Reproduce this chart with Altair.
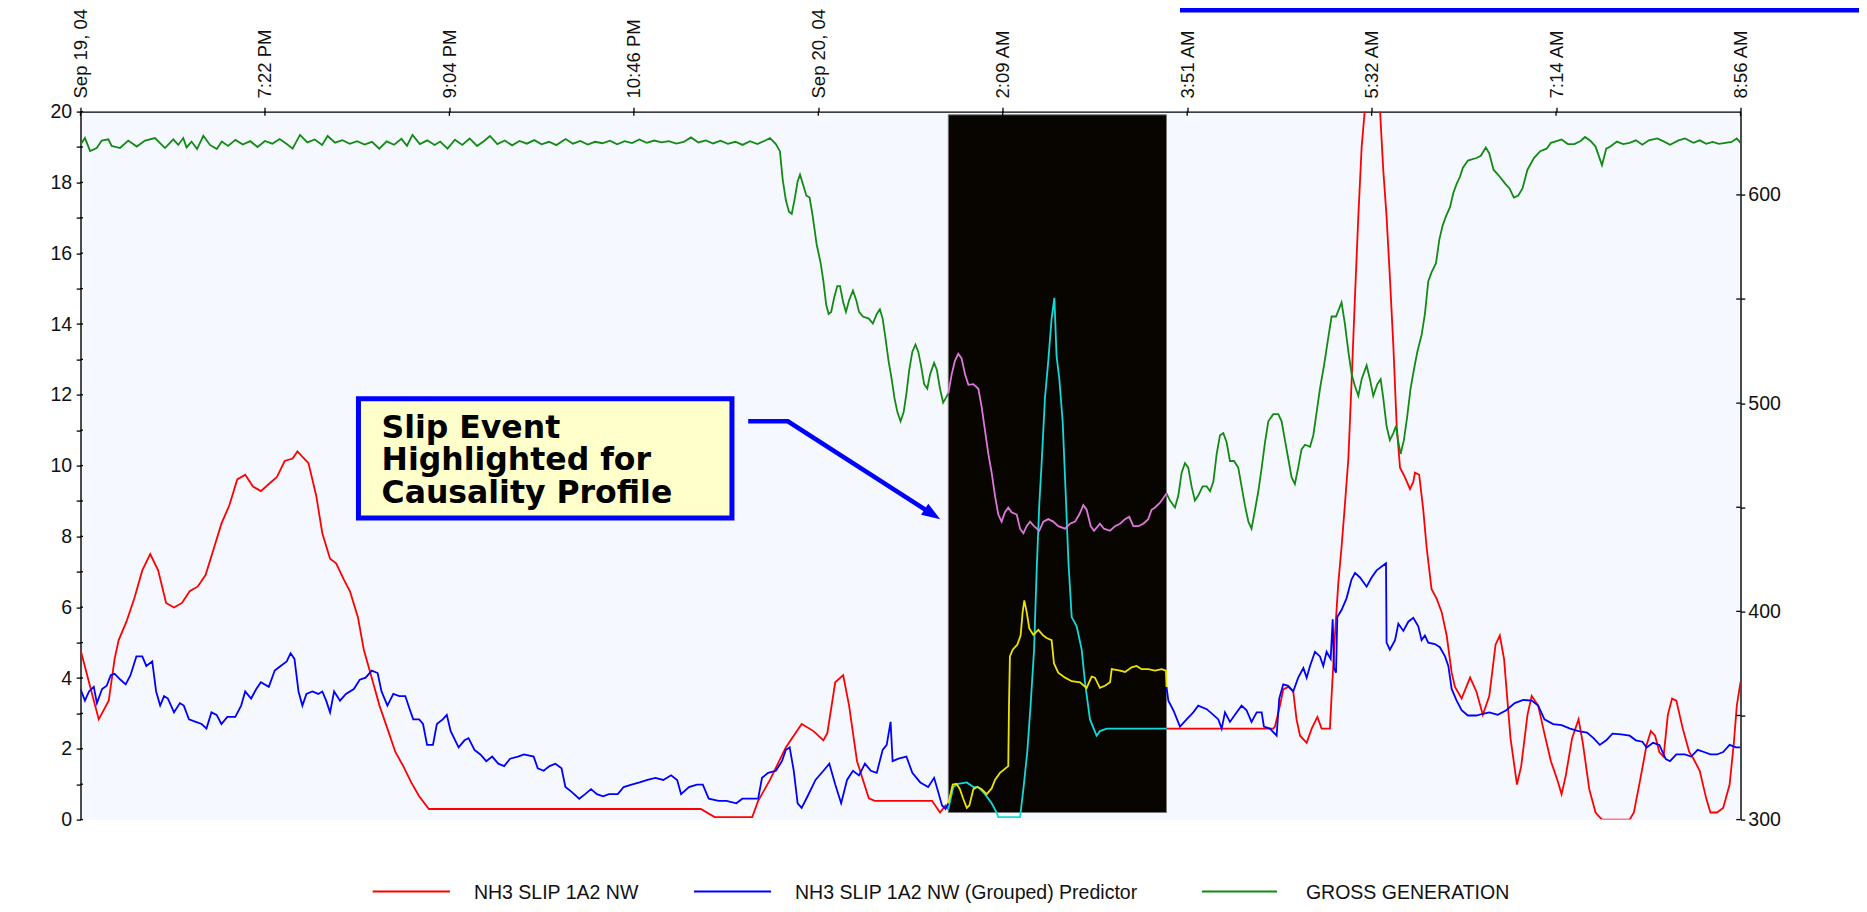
import altair as alt
import pandas as pd

# ---------------- data ----------------
# time axis is expressed in tick steps (0 = Sep 19 '04 5:40 PM, 9 = Sep 20 '04 8:56 AM)
X_LABELS = ['Sep 19, 04', '7:22 PM', '9:04 PM', '10:46 PM', 'Sep 20, 04',
            '2:09 AM', '3:51 AM', '5:32 AM', '7:14 AM', '8:56 AM']
X_TICKS = list(range(10))
LEFT_TICKS = list(range(0, 21))
RIGHT_TICKS = [300, 350, 400, 450, 500, 550, 600]
HIGHLIGHT_START = 4.705
HIGHLIGHT_END = 5.888
SERIES_NAMES = ['NH3 SLIP 1A2 NW', 'NH3 SLIP 1A2 NW (Grouped) Predictor', 'GROSS GENERATION']

NH3_SLIP = [
    (0.000, 4.80), (0.050, 3.80), (0.099, 2.83), (0.153, 3.36), (0.185, 4.54), (0.207, 5.07),
    (0.249, 5.59), (0.292, 6.25), (0.335, 7.04), (0.378, 7.50), (0.421, 7.04), (0.464, 6.12),
    (0.507, 5.99), (0.550, 6.12), (0.592, 6.45), (0.635, 6.58), (0.678, 6.91), (0.721, 7.63),
    (0.764, 8.36), (0.807, 8.88), (0.850, 9.61), (0.893, 9.74), (0.935, 9.41), (0.978, 9.28),
    (1.021, 9.48), (1.064, 9.67), (1.107, 10.13), (1.150, 10.20), (1.176, 10.40), (1.236, 10.07),
    (1.278, 9.15), (1.311, 8.09), (1.353, 7.37), (1.386, 7.24), (1.428, 6.78), (1.461, 6.45),
    (1.504, 5.72), (1.536, 4.80), (1.579, 4.01), (1.621, 3.22), (1.664, 2.57), (1.707, 1.91),
    (1.750, 1.51), (1.793, 1.05), (1.836, 0.66), (1.889, 0.30), (3.363, 0.30), (3.438, 0.07),
    (3.642, 0.07), (3.674, 0.53), (3.738, 1.12), (3.824, 2.04), (3.910, 2.70), (3.974, 2.50),
    (4.028, 2.24), (4.049, 2.44), (4.092, 3.88), (4.135, 4.08), (4.167, 3.22), (4.210, 1.65),
    (4.274, 0.60), (4.306, 0.53), (4.617, 0.53), (4.660, 0.20), (4.690, 0.40),
    (4.705, 0.30), (4.732, 0.92), (4.759, 1.01), (4.805, 1.05), (4.841, 0.92), (4.868, 0.92),
    (4.904, 0.72), (4.940, 0.46), (4.967, 0.20), (4.976, 0.07), (5.094, 0.07), (5.112, 0.86),
    (5.133, 1.91), (5.151, 3.22), (5.170, 4.80), (5.184, 7.04), (5.198, 8.88), (5.211, 10.07),
    (5.229, 11.91), (5.247, 12.96), (5.265, 14.15), (5.280, 14.74), (5.292, 13.09), (5.307, 12.44),
    (5.325, 11.25), (5.343, 9.01), (5.356, 7.30), (5.374, 5.72), (5.401, 5.46), (5.428, 4.80),
    (5.446, 3.88), (5.473, 2.83), (5.509, 2.37), (5.527, 2.50), (5.564, 2.57), (5.888, 2.57),
    (6.467, 2.57), (6.476, 2.63), (6.503, 3.22), (6.521, 3.68), (6.548, 3.75), (6.575, 3.62),
    (6.593, 2.83), (6.612, 2.37), (6.648, 2.17), (6.675, 2.57), (6.706, 2.90), (6.729, 2.57),
    (6.774, 2.57), (6.783, 3.49), (6.801, 5.20), (6.819, 6.65), (6.837, 7.70), (6.855, 8.88),
    (6.874, 10.20), (6.892, 12.44), (6.910, 14.80), (6.928, 17.04), (6.946, 19.00), (6.964, 20.10),
    (7.004, 23.00), (7.045, 20.10), (7.063, 18.36), (7.081, 17.04), (7.099, 15.33), (7.118, 13.36),
    (7.136, 11.12), (7.154, 9.94), (7.181, 9.67), (7.208, 9.34), (7.226, 9.54), (7.235, 9.80),
    (7.258, 9.74), (7.280, 8.75), (7.298, 7.70), (7.325, 6.51), (7.352, 6.25), (7.380, 5.86),
    (7.407, 5.20), (7.434, 4.15), (7.452, 3.75), (7.488, 3.42), (7.534, 4.01), (7.568, 3.62),
    (7.603, 2.96), (7.638, 3.49), (7.672, 4.94), (7.695, 5.20), (7.718, 4.54), (7.753, 2.30),
    (7.788, 0.99), (7.811, 1.51), (7.845, 2.96), (7.868, 3.49), (7.903, 3.22), (7.937, 2.43),
    (7.972, 1.65), (8.007, 1.12), (8.030, 0.72), (8.053, 1.25), (8.087, 2.30), (8.122, 2.83),
    (8.145, 2.17), (8.180, 0.86), (8.214, 0.20), (8.249, 0.00), (8.399, 0.00), (8.422, 0.20),
    (8.456, 1.12), (8.491, 2.11), (8.514, 2.50), (8.537, 2.37), (8.560, 1.91), (8.583, 1.78),
    (8.606, 2.96), (8.629, 3.42), (8.652, 3.36), (8.687, 2.57), (8.722, 1.91), (8.745, 1.72),
    (8.779, 1.38), (8.814, 0.60), (8.837, 0.20), (8.872, 0.20), (8.906, 0.33), (8.941, 0.99),
    (8.964, 2.17), (8.980, 3.22), (9.000, 3.88),
]

PREDICTOR = [
    (0.000, 3.69), (0.024, 3.36), (0.046, 3.62), (0.072, 3.75), (0.089, 3.29), (0.117, 3.69),
    (0.142, 3.78), (0.164, 4.08), (0.185, 4.12), (0.217, 3.95), (0.245, 3.82), (0.271, 4.08),
    (0.303, 4.61), (0.335, 4.61), (0.357, 4.34), (0.389, 4.47), (0.410, 3.62), (0.432, 3.22),
    (0.453, 3.49), (0.474, 3.42), (0.507, 3.03), (0.539, 3.29), (0.560, 3.22), (0.588, 2.83),
    (0.625, 2.76), (0.657, 2.70), (0.683, 2.57), (0.710, 3.03), (0.738, 2.96), (0.764, 2.70),
    (0.796, 2.90), (0.839, 2.90), (0.871, 3.22), (0.893, 3.62), (0.925, 3.42), (0.953, 3.69),
    (0.978, 3.88), (1.021, 3.75), (1.053, 4.21), (1.085, 4.34), (1.118, 4.47), (1.139, 4.70),
    (1.160, 4.54), (1.182, 3.62), (1.203, 3.22), (1.225, 3.55), (1.257, 3.62), (1.289, 3.55),
    (1.311, 3.62), (1.332, 3.36), (1.353, 3.03), (1.375, 3.62), (1.407, 3.36), (1.439, 3.55),
    (1.482, 3.69), (1.514, 3.95), (1.546, 4.01), (1.579, 4.21), (1.611, 4.14), (1.632, 3.62),
    (1.664, 3.22), (1.696, 3.55), (1.729, 3.49), (1.761, 3.49), (1.782, 3.16), (1.804, 2.83),
    (1.836, 2.83), (1.857, 2.70), (1.879, 2.11), (1.911, 2.11), (1.932, 2.70), (1.964, 2.83),
    (1.986, 2.96), (2.007, 2.50), (2.050, 2.04), (2.082, 2.24), (2.104, 2.30), (2.136, 1.97),
    (2.168, 1.84), (2.200, 1.65), (2.232, 1.78), (2.265, 1.58), (2.297, 1.51), (2.329, 1.72),
    (2.372, 1.78), (2.404, 1.84), (2.457, 1.78), (2.479, 1.45), (2.511, 1.38), (2.543, 1.51),
    (2.575, 1.58), (2.608, 1.45), (2.629, 0.92), (2.661, 0.79), (2.704, 0.59), (2.736, 0.72),
    (2.768, 0.86), (2.800, 0.72), (2.833, 0.66), (2.865, 0.72), (2.913, 0.72), (2.945, 0.92),
    (2.988, 0.99), (3.031, 1.05), (3.074, 1.12), (3.117, 1.18), (3.160, 1.12), (3.202, 1.25),
    (3.235, 1.12), (3.256, 0.72), (3.299, 0.92), (3.342, 0.99), (3.374, 0.99), (3.406, 0.59),
    (3.460, 0.53), (3.502, 0.53), (3.556, 0.46), (3.588, 0.59), (3.674, 0.59), (3.695, 1.18),
    (3.728, 1.32), (3.770, 1.38), (3.803, 1.65), (3.824, 1.97), (3.845, 2.04), (3.867, 1.38),
    (3.888, 0.46), (3.910, 0.33), (3.942, 0.66), (3.985, 1.12), (4.028, 1.38), (4.060, 1.58),
    (4.092, 0.99), (4.124, 0.46), (4.156, 1.12), (4.188, 1.38), (4.221, 1.25), (4.253, 1.58),
    (4.285, 1.38), (4.317, 1.32), (4.349, 1.97), (4.371, 2.11), (4.392, 2.76), (4.403, 1.65),
    (4.435, 1.72), (4.478, 1.78), (4.510, 1.32), (4.553, 1.05), (4.596, 0.92), (4.628, 1.18),
    (4.649, 0.80), (4.671, 0.40), (4.690, 0.30),
    (4.705, 0.46), (4.729, 0.99), (4.750, 1.01), (4.768, 0.86), (4.786, 0.59), (4.805, 0.33),
    (4.819, 0.40), (4.841, 0.86), (4.862, 0.92), (4.886, 0.86), (4.913, 0.72), (4.940, 0.88),
    (4.958, 1.12), (4.985, 1.32), (5.030, 1.51), (5.034, 3.22), (5.039, 4.61), (5.054, 4.80),
    (5.079, 4.94), (5.097, 5.20), (5.108, 5.86), (5.117, 6.19), (5.130, 5.86), (5.144, 5.40),
    (5.166, 5.22), (5.193, 5.36), (5.220, 5.20), (5.238, 5.13), (5.265, 5.07), (5.278, 4.41),
    (5.301, 4.15), (5.338, 4.01), (5.374, 3.91), (5.419, 3.88), (5.455, 3.72), (5.482, 4.04),
    (5.500, 4.01), (5.527, 3.72), (5.554, 3.78), (5.582, 3.88), (5.591, 4.25), (5.636, 4.21),
    (5.663, 4.17), (5.699, 4.30), (5.726, 4.34), (5.753, 4.25), (5.789, 4.25), (5.826, 4.21),
    (5.862, 4.25), (5.885, 4.21), (5.888, 3.75),
    (5.898, 3.36), (5.925, 3.09), (5.961, 2.63), (5.997, 2.83), (6.033, 3.03), (6.060, 3.22),
    (6.106, 3.12), (6.142, 2.96), (6.169, 2.83), (6.187, 2.57), (6.205, 3.03), (6.232, 2.76),
    (6.259, 2.96), (6.295, 3.22), (6.322, 3.09), (6.349, 2.76), (6.377, 3.03), (6.404, 3.03),
    (6.416, 2.63), (6.449, 2.57), (6.485, 2.37), (6.499, 3.42), (6.521, 3.82), (6.548, 3.78),
    (6.575, 3.62), (6.602, 4.01), (6.630, 4.28), (6.648, 4.01), (6.666, 4.34), (6.693, 4.74),
    (6.720, 4.61), (6.738, 4.34), (6.756, 4.74), (6.778, 4.54), (6.789, 5.66), (6.796, 4.28),
    (6.807, 4.15), (6.814, 5.72), (6.837, 5.92), (6.864, 6.25), (6.891, 6.78), (6.910, 6.97),
    (6.937, 6.84), (6.973, 6.58), (7.000, 6.84), (7.027, 7.04), (7.060, 7.17), (7.078, 7.24),
    (7.081, 5.00), (7.099, 4.80), (7.127, 5.07), (7.145, 5.53), (7.172, 5.33), (7.199, 5.59),
    (7.226, 5.70), (7.253, 5.46), (7.271, 5.07), (7.289, 5.20), (7.307, 5.00), (7.343, 4.96),
    (7.370, 4.87), (7.398, 4.61), (7.416, 4.34), (7.434, 3.69), (7.461, 3.36), (7.488, 3.09),
    (7.522, 2.94), (7.568, 2.94), (7.603, 2.99), (7.638, 3.03), (7.684, 2.96), (7.730, 3.09),
    (7.776, 3.29), (7.822, 3.38), (7.868, 3.36), (7.903, 3.22), (7.937, 2.83), (7.984, 2.70),
    (8.030, 2.67), (8.076, 2.57), (8.122, 2.50), (8.168, 2.46), (8.203, 2.30), (8.237, 2.11),
    (8.272, 2.24), (8.306, 2.43), (8.353, 2.41), (8.399, 2.37), (8.433, 2.24), (8.468, 2.20),
    (8.491, 2.04), (8.526, 2.17), (8.560, 2.11), (8.595, 1.71), (8.618, 1.65), (8.652, 1.84),
    (8.698, 1.84), (8.733, 1.78), (8.768, 1.97), (8.802, 1.91), (8.837, 1.84), (8.872, 1.84),
    (8.906, 1.91), (8.941, 2.11), (8.975, 2.04), (9.000, 2.04),
]

GROSS_GEN = [
    (0.000, 624.0), (0.006, 624.9), (0.024, 627.3), (0.052, 621.1), (0.088, 622.5), (0.115, 626.1),
    (0.151, 626.7), (0.169, 623.5), (0.214, 622.5), (0.259, 626.1), (0.305, 623.2), (0.350, 626.1),
    (0.404, 627.3), (0.458, 622.5), (0.503, 626.7), (0.530, 624.0), (0.557, 627.3), (0.575, 622.8),
    (0.602, 625.6), (0.632, 622.0), (0.666, 628.4), (0.702, 624.0), (0.739, 622.0), (0.766, 625.6),
    (0.80, 623.5), (0.84, 626.4), (0.88, 624.2), (0.92, 625.8), (0.96, 623.0), (1.00, 625.9),
    (1.04, 624.6), (1.08, 626.8), (1.12, 624.3), (1.15, 622.2), (1.19, 628.8), (1.23, 625.2),
    (1.27, 626.6), (1.31, 624.0), (1.34, 628.3), (1.38, 625.1), (1.42, 626.3), (1.46, 624.5),
    (1.50, 625.8), (1.54, 624.2), (1.58, 625.5), (1.62, 622.2), (1.66, 625.7), (1.70, 624.1),
    (1.74, 626.9), (1.77, 623.6), (1.80, 628.8), (1.84, 624.4), (1.88, 626.2), (1.92, 624.0),
    (1.95, 625.6), (1.99, 622.2), (2.03, 626.5), (2.07, 624.0), (2.11, 627.1), (2.15, 623.5),
    (2.19, 626.0), (2.22, 628.3), (2.26, 624.4), (2.30, 626.1), (2.34, 623.8), (2.38, 625.9),
    (2.42, 624.6), (2.46, 626.3), (2.50, 624.3), (2.54, 625.5), (2.58, 623.9), (2.63, 626.8),
    (2.67, 624.6), (2.71, 625.9), (2.75, 624.2), (2.79, 625.5), (2.83, 624.8), (2.87, 626.0),
    (2.91, 624.3), (2.95, 625.8), (2.99, 624.9), (3.03, 626.6), (3.07, 625.0), (3.11, 626.1),
    (3.15, 625.2), (3.19, 625.8), (3.23, 624.6), (3.27, 625.4), (3.31, 627.6), (3.35, 625.2),
    (3.39, 626.2), (3.43, 624.7), (3.47, 626.0), (3.51, 624.5), (3.55, 625.5), (3.59, 624.0),
    (3.63, 625.8), (3.67, 624.4), (3.71, 626.0), (3.738, 627.3), (3.770, 624.4), (3.792, 621.0),
    (3.807, 607.5), (3.824, 597.5), (3.841, 591.9), (3.856, 590.9), (3.871, 597.5), (3.888, 606.5),
    (3.901, 609.7), (3.920, 604.3), (3.935, 599.7), (3.953, 598.7), (3.970, 589.7), (3.991, 576.3),
    (4.013, 567.2), (4.028, 558.4), (4.043, 547.2), (4.056, 542.8), (4.070, 543.8), (4.086, 550.6),
    (4.103, 556.2), (4.118, 556.2), (4.135, 548.4), (4.150, 543.8), (4.167, 549.4), (4.188, 554.0),
    (4.206, 549.4), (4.221, 543.8), (4.242, 541.6), (4.274, 540.6), (4.296, 538.2), (4.317, 542.8),
    (4.334, 545.0), (4.349, 540.6), (4.364, 531.5), (4.381, 520.3), (4.398, 511.5), (4.413, 502.5),
    (4.429, 495.7), (4.446, 491.3), (4.463, 495.7), (4.478, 504.7), (4.493, 515.9), (4.510, 524.7),
    (4.527, 528.1), (4.542, 524.7), (4.557, 518.1), (4.574, 509.1), (4.591, 506.9), (4.606, 513.7),
    (4.628, 519.3), (4.643, 515.9), (4.660, 506.9), (4.677, 500.3), (4.692, 502.5),
    (4.705, 504.7), (4.723, 513.7), (4.741, 520.3), (4.759, 523.7), (4.777, 521.5), (4.796, 513.7),
    (4.814, 508.8), (4.841, 509.1), (4.868, 506.9), (4.886, 498.1), (4.904, 486.8), (4.922, 475.6),
    (4.940, 466.6), (4.958, 455.6), (4.976, 446.5), (4.994, 443.1), (5.012, 447.6), (5.030, 449.9),
    (5.048, 447.6), (5.076, 446.5), (5.094, 439.7), (5.112, 437.5), (5.130, 440.9), (5.148, 443.1),
    (5.170, 440.9), (5.198, 438.7), (5.220, 443.1), (5.247, 444.3), (5.274, 443.1), (5.301, 440.9),
    (5.338, 439.7), (5.365, 442.1), (5.392, 443.1), (5.415, 446.5), (5.437, 451.0), (5.455, 448.8),
    (5.477, 440.9), (5.495, 438.7), (5.527, 442.1), (5.549, 439.7), (5.582, 438.7), (5.609, 440.9),
    (5.636, 442.1), (5.663, 444.3), (5.686, 445.4), (5.708, 440.9), (5.735, 440.9), (5.762, 442.1),
    (5.789, 444.3), (5.807, 448.8), (5.826, 449.9), (5.853, 452.2), (5.871, 454.4), (5.888, 456.6),
    (5.907, 453.2), (5.934, 449.9), (5.952, 455.6), (5.970, 466.6), (5.988, 471.2), (6.006, 469.0),
    (6.024, 460.0), (6.042, 453.2), (6.060, 455.6), (6.084, 460.0), (6.106, 460.0), (6.124, 457.8),
    (6.142, 462.2), (6.160, 475.6), (6.178, 484.6), (6.196, 485.6), (6.214, 481.2), (6.232, 472.2),
    (6.254, 472.2), (6.277, 469.0), (6.295, 460.0), (6.313, 451.0), (6.332, 443.1), (6.349, 439.7),
    (6.368, 448.8), (6.386, 457.8), (6.404, 469.0), (6.422, 481.2), (6.440, 491.3), (6.467, 494.7),
    (6.494, 494.7), (6.512, 491.3), (6.530, 482.2), (6.548, 473.4), (6.566, 464.4), (6.584, 461.2),
    (6.602, 469.0), (6.620, 477.8), (6.639, 480.0), (6.666, 479.0), (6.684, 484.6), (6.702, 495.7),
    (6.720, 506.9), (6.742, 518.1), (6.765, 531.5), (6.783, 541.6), (6.807, 541.6), (6.837, 548.4),
    (6.855, 538.2), (6.874, 524.7), (6.892, 513.7), (6.910, 508.1), (6.928, 503.5), (6.946, 511.5),
    (6.973, 518.1), (6.991, 511.5), (7.009, 503.5), (7.031, 509.1), (7.049, 511.5), (7.063, 502.5),
    (7.081, 489.0), (7.099, 482.2), (7.118, 485.6), (7.132, 489.0), (7.145, 481.2), (7.157, 475.6),
    (7.175, 482.2), (7.193, 493.5), (7.211, 506.9), (7.229, 515.9), (7.248, 524.7), (7.271, 532.7),
    (7.289, 542.8), (7.307, 558.4), (7.325, 562.8), (7.349, 567.2), (7.367, 578.5), (7.385, 585.3),
    (7.403, 589.7), (7.425, 594.1), (7.443, 600.9), (7.461, 605.3), (7.479, 608.7), (7.495, 613.1),
    (7.522, 616.5), (7.568, 617.7), (7.592, 618.8), (7.619, 622.8), (7.638, 619.9), (7.661, 612.1),
    (7.695, 608.7), (7.725, 605.3), (7.748, 603.1), (7.771, 598.7), (7.795, 599.7), (7.818, 603.1),
    (7.845, 612.1), (7.880, 617.7), (7.914, 621.0), (7.949, 622.2), (7.972, 625.0), (8.007, 625.9),
    (8.030, 626.6), (8.064, 624.4), (8.099, 624.4), (8.133, 625.9), (8.157, 627.8), (8.187, 625.9),
    (8.214, 623.2), (8.249, 614.3), (8.272, 622.2), (8.295, 623.2), (8.330, 625.6), (8.364, 624.4),
    (8.399, 625.0), (8.433, 626.2), (8.468, 624.1), (8.503, 626.2), (8.549, 627.1), (8.583, 625.7),
    (8.618, 624.1), (8.664, 626.2), (8.699, 627.1), (8.745, 625.0), (8.779, 626.2), (8.814, 624.5),
    (8.849, 625.4), (8.883, 624.5), (8.918, 625.0), (8.952, 625.4), (8.980, 627.1), (9.000, 625.0),
]

# annotation (data coordinates: tick steps / left-axis units)
NOTE_LINES = ['Slip Event', 'Highlighted for', 'Causality Profile']
NOTE_LINE_T = 1.632
NOTE_LINE_V = [10.79, 9.87, 8.95]
NOTE_BOX = (1.507, 3.532, 8.52, 11.89)
ARROW_PATH = [(3.620, 11.25), (3.835, 11.25), (4.619, 8.626)]

LEGEND_LINE_T = [(1.584, 2.003), (3.326, 3.744), (6.080, 6.487)]
LEGEND_TEXT_T = [2.133, 3.874, 6.644]
LEGEND_V_LINE = -2.03
LEGEND_V_TEXT = -2.23

# ---------------- styling ----------------
RED, BLUE, GREEN = '#FF0000', '#0000FF', '#138A13'
CYAN, YELLOW, MAGENTA = '#10DADA', '#EDE300', '#DD77DD'
W, H = 1660, 708
LINE_W = 1.8

xscale = alt.Scale(domain=[0, 9], nice=False, zero=False)
yscale = alt.Scale(domain=[0, 20], nice=False, zero=False)
rscale = alt.Scale(domain=[300, 640], nice=False, zero=False)

label_expr = "[" + ",".join("'%s'" % s for s in X_LABELS) + "][datum.value]"
common_axis = dict(domainColor='#000000', domainWidth=1.4, tickColor='#000000', tickWidth=1.3,
                   tickSize=4.3, labelColor='#111111', labelFont='Liberation Sans', grid=False,
                   title=None, labelOverlap=False, labelFlush=False)
xaxis = alt.Axis(orient='top', values=X_TICKS, labelExpr=label_expr, labelAngle=270,
                 labelAlign='left', labelBaseline='middle', labelPadding=9.3,
                 labelFontSize=18.5, **common_axis)
yaxis = alt.Axis(orient='left', values=LEFT_TICKS,
                 labelExpr="datum.value % 2 == 0 ? datum.label : ''",
                 labelPadding=4.5, labelFontSize=19.5, **common_axis)
raxis = alt.Axis(orient='right', values=RIGHT_TICKS,
                 labelExpr="datum.value % 100 == 0 ? datum.label : ''",
                 labelPadding=3, labelFontSize=19.5, **common_axis)


def X(f='t'):
    return alt.X(f + ':Q', scale=xscale, axis=xaxis)


def YL(f='v'):
    return alt.Y(f + ':Q', scale=yscale, axis=yaxis)


def YR(f='v'):
    return alt.Y(f + ':Q', scale=rscale, axis=raxis)


def frame(pairs):
    return pd.DataFrame(pairs, columns=['t', 'v'])


def series_layers(pairs, color, hcolor, yenc):
    df = frame(pairs)
    pre = alt.Chart(df).mark_line(clip=True, strokeWidth=LINE_W, color=color).transform_filter(
        'datum.t <= %r' % HIGHLIGHT_START).encode(x=X(), y=yenc())
    post = alt.Chart(df).mark_line(clip=True, strokeWidth=LINE_W, color=color).transform_filter(
        'datum.t >= %r' % HIGHLIGHT_END).encode(x=X(), y=yenc())
    mid = alt.Chart(df).mark_line(clip=True, strokeWidth=LINE_W, color=hcolor).transform_filter(
        'datum.t >= %r && datum.t <= %r' % (HIGHLIGHT_START, HIGHLIGHT_END)).encode(x=X(), y=yenc())
    return [pre, post, mid]


# highlight window (black)
win_df = pd.DataFrame({'t': [HIGHLIGHT_START], 't2': [HIGHLIGHT_END], 'v': [0.2], 'v2': [19.91]})
window = alt.Chart(win_df).mark_rect(fill='#080400', stroke='#7a7a7a', strokeWidth=1).encode(
    x=X(), x2='t2:Q', y=YL(), y2='v2:Q')

# inward halves of the crossing ticks
ltick_df = pd.DataFrame({'t': [0.0] * len(LEFT_TICKS), 't2': [0.0135] * len(LEFT_TICKS), 'v': LEFT_TICKS})
lticks = alt.Chart(ltick_df).mark_rule(color='#000000', strokeWidth=1.3).encode(x=X(), x2='t2:Q', y=YL())
ttick_df = pd.DataFrame({'t': X_TICKS, 'v': [20.0] * len(X_TICKS), 'v2': [19.88] * len(X_TICKS)})
tticks = alt.Chart(ttick_df).mark_rule(color='#000000', strokeWidth=1.3).encode(x=X(), y=YL(), y2='v2:Q')
rtick_df = pd.DataFrame({'t': [8.977] * len(RIGHT_TICKS), 't2': [9.0] * len(RIGHT_TICKS), 'v': RIGHT_TICKS})
rticks = alt.Chart(rtick_df).mark_rule(color='#000000', strokeWidth=1.3).encode(x=X(), x2='t2:Q', y=YR())

# annotation box, text and arrow
box_df = pd.DataFrame({'t': [NOTE_BOX[0]], 't2': [NOTE_BOX[1]], 'v': [NOTE_BOX[2]], 'v2': [NOTE_BOX[3]]})
note_box = alt.Chart(box_df).mark_rect(fill='#FFFFCC', stroke='#0000FF', strokeWidth=5).encode(
    x=X(), x2='t2:Q', y=YL(), y2='v2:Q')
note_df = pd.DataFrame({'t': [NOTE_LINE_T] * 3, 'v': NOTE_LINE_V, 'label': NOTE_LINES})
note_text = alt.Chart(note_df).mark_text(align='left', baseline='alphabetic', font='DejaVu Sans',
                                         fontSize=31.5, fontWeight='bold', color='#000000').encode(
    x=X(), y=YL(), text='label:N')
arrow_df = frame(ARROW_PATH)
arrow_line = alt.Chart(arrow_df).mark_line(color='#0000FF', strokeWidth=4.5, strokeCap='butt').encode(
    x=X(), y=YL())
head_df = frame([ARROW_PATH[-1]])
arrow_head = alt.Chart(head_df).mark_point(shape='M -1 -0.72 L 1 0 L -1 0.72 Z', filled=True, size=340,
                                           angle=32.75, color='#0000FF', opacity=1, strokeWidth=0).encode(
    x=X(), y=YL())

# blue rule at the very top right
bar_df = pd.DataFrame({'t': [5.961], 't2': [12.0], 'v': [22.80], 'v2': [23.6]})
top_bar = alt.Chart(bar_df).mark_rect(color='#0000FF').encode(x=X(), x2='t2:Q', y=YL(), y2='v2:Q')

# legend
leg_line_df = pd.DataFrame({'t': [a for a, b in LEGEND_LINE_T], 't2': [b for a, b in LEGEND_LINE_T],
                            'v': [LEGEND_V_LINE] * 3, 'c': [RED, BLUE, GREEN]})
leg_lines = alt.Chart(leg_line_df).mark_rule(strokeWidth=2).encode(
    x=X(), x2='t2:Q', y=YL(), color=alt.Color('c:N', scale=None))
leg_text_df = pd.DataFrame({'t': LEGEND_TEXT_T, 'v': [LEGEND_V_TEXT] * 3, 'label': SERIES_NAMES})
leg_text = alt.Chart(leg_text_df).mark_text(align='left', baseline='alphabetic', font='Liberation Sans',
                                            fontSize=19.5, color='#111111').encode(
    x=X(), y=YL(), text='label:N')

left_group = alt.layer(
    window, lticks, tticks,
    *series_layers(NH3_SLIP, RED, CYAN, YL),
    *series_layers(PREDICTOR, BLUE, YELLOW, YL),
    note_box, note_text, arrow_line, arrow_head, top_bar, leg_lines, leg_text,
)
right_group = alt.layer(
    rticks,
    *series_layers(GROSS_GEN, GREEN, MAGENTA, YR),
)

chart = alt.layer(left_group, right_group).resolve_scale(y='independent').properties(
    width=W, height=H,
    autosize=alt.AutoSizeParams(type='none'),
    padding={'left': 72.5, 'top': 103.6, 'right': 118.5, 'bottom': 84.4},
).configure_view(fill='#F5F8FE', stroke='transparent')

chart.save('out.html', embed_options={'renderer': 'svg', 'actions': False})
